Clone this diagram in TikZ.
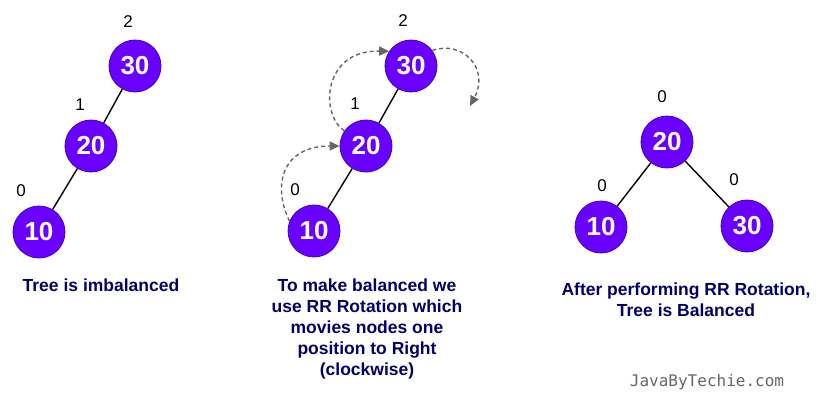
\documentclass[tikz,border=0pt]{standalone}
\usepackage{fontspec}
\setmainfont{Liberation Sans}
\newfontfamily\wmfont{DejaVu Sans Mono}
\usetikzlibrary{arrows.meta}
\definecolor{nodefill}{HTML}{6A00FF}
\definecolor{nodeline}{HTML}{3700CC}
\definecolor{capcol}{HTML}{000066}
\definecolor{dashcol}{HTML}{666666}
\tikzset{
  tnode/.style={circle, fill=nodefill, draw=nodeline, line width=0.8pt, minimum size=52pt, inner sep=0pt,
    text=white, font=\fontsize{26}{26}\selectfont\bfseries},
  hlabel/.style={font=\fontsize{17}{17}\selectfont, inner sep=0pt},
  edge/.style={line width=1.4pt, black},
  rot/.style={dashcol, line width=1.4pt, dash pattern=on 4pt off 3pt, -{Triangle[length=10pt,width=9pt]}},
  caption/.style={text=capcol, font=\fontsize{17.5}{21}\selectfont\bfseries, align=center, inner sep=0pt}
}
\begin{document}
\begin{tikzpicture}[x=1pt,y=-1pt]
\useasboundingbox (0,0) rectangle (819,402);
% left tree
\node[tnode] (a30) at (135,66) {30};
\node[tnode] (a20) at (91,146) {20};
\node[tnode] (a10) at (39,232) {10};
\draw[edge] (a30) -- (a20);
\draw[edge] (a20) -- (a10);
\node[hlabel] (la2) at (128,22) {2};
\node[hlabel] (la1) at (80,105) {1};
\node[hlabel] (la0) at (21,191) {0};
% middle tree
\node[tnode] (b30) at (411,66) {30};
\node[tnode] (b20) at (366,146) {20};
\node[tnode] (b10) at (314,231) {10};
\draw[edge] (b30) -- (b20);
\draw[edge] (b20) -- (b10);
\node[hlabel] (lb2) at (403,21) {2};
\node[hlabel] (lb1) at (355,104) {1};
\node[hlabel] (lb0) at (295,190) {0};
\draw[rot] (b10.158) .. controls (272,185) and (282,146) .. (b20.west);
\draw[rot] (b20.145) .. controls (320,115) and (322,50) .. (b30.146);
\coordinate (tipc) at (470,106);
\draw[rot] (b30.36) .. controls (462,40) and (490,68) .. (tipc);
% right tree
\node[tnode] (c20) at (667,142) {20};
\node[tnode] (c10) at (601,227) {10};
\node[tnode] (c30) at (747,226) {30};
\draw[edge] (c20) -- (c10);
\draw[edge] (c20) -- (c30);
\node[hlabel] (lc0) at (662,97) {0};
\node[hlabel] (lc1) at (602,186) {0};
\node[hlabel] (lc2) at (734,180) {0};
% captions
\node[caption] (t1) at (101,285) {Tree is imbalanced};
\node[caption, anchor=north] (t2) at (367,279) {To make balanced we\\use RR Rotation which\\movies nodes one\\position to Right\\(clockwise)};
\node[caption, anchor=north] (t3) at (686,283) {After performing RR Rotation,\\Tree is Balanced};
\node[text=dashcol, font=\wmfont\fontsize{16}{16}\selectfont, inner sep=0pt] (wm) at (707,382) {JavaByTechie.com};
\end{tikzpicture}
\end{document}
